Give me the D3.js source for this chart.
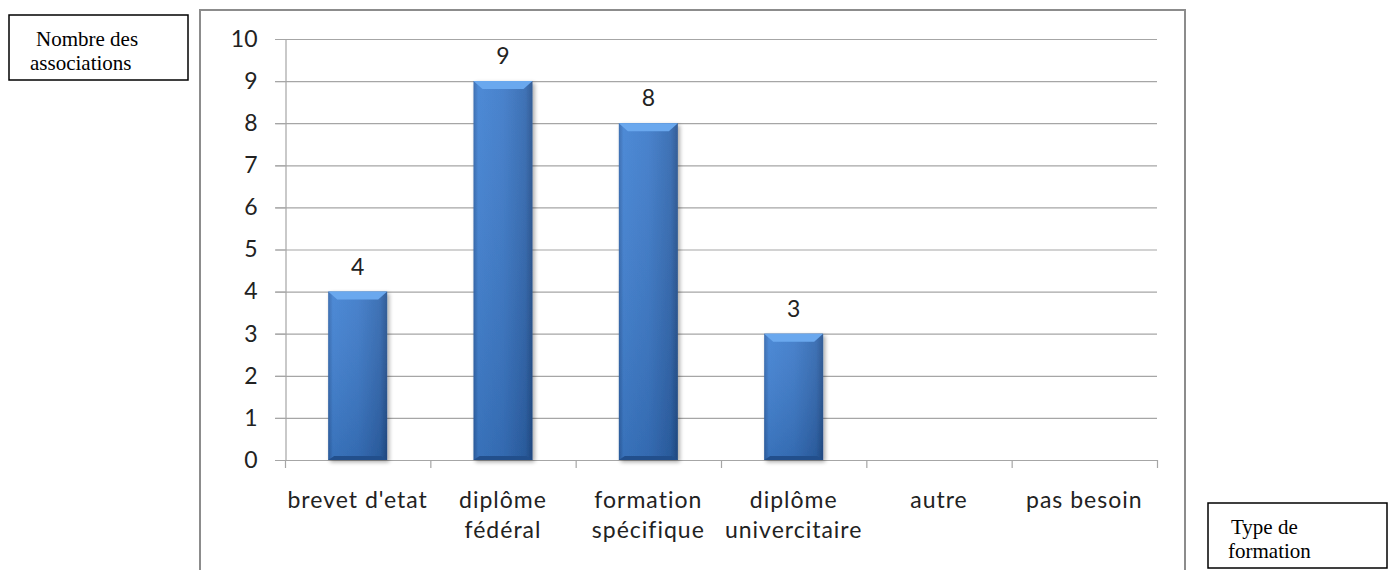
<!DOCTYPE html>
<html>
<head>
<meta charset="utf-8">
<script src="https://cdn.jsdelivr.net/npm/d3@7"></script>
<style>
  body { margin: 0; background: #fff; }
  svg { display: block; }
</style>
</head>
<body>
<div id="chart"></div>
<script>
// data
const categories = [["brevet d'etat"], ["diplôme", "fédéral"], ["formation", "spécifique"],
                    ["diplôme", "univercitaire"], ["autre"], ["pas besoin"]];
const values = [4, 9, 8, 3, 0, 0];
const yTicks = [0, 1, 2, 3, 4, 5, 6, 7, 8, 9, 10];

const width = 1390, height = 570;
const svg = d3.select("#chart").append("svg")
    .attr("width", width)
    .attr("height", height);

const defs = svg.append("defs");
// horizontal shading of the bars
const grad = defs.append("linearGradient").attr("id", "barGrad")
    .attr("x1", "0%").attr("x2", "100%").attr("y1", "0%").attr("y2", "0%");
grad.append("stop").attr("offset", "0%").attr("stop-color", "#2f64ab");
grad.append("stop").attr("offset", "8%").attr("stop-color", "#3f80d2");
grad.append("stop").attr("offset", "50%").attr("stop-color", "#3a78c8");
grad.append("stop").attr("offset", "88%").attr("stop-color", "#2f66af");
grad.append("stop").attr("offset", "100%").attr("stop-color", "#23508e");
const vgrad = defs.append("linearGradient").attr("id", "barShade")
    .attr("x1", "0%").attr("x2", "0%").attr("y1", "0%").attr("y2", "100%");
vgrad.append("stop").attr("offset", "0%").attr("stop-color", "#ffffff").attr("stop-opacity", 0.08);
vgrad.append("stop").attr("offset", "100%").attr("stop-color", "#000000").attr("stop-opacity", 0.12);
const shadow = defs.append("filter").attr("id", "shadow")
    .attr("x", "-20%").attr("y", "-5%").attr("width", "150%").attr("height", "115%");
shadow.append("feGaussianBlur").attr("in", "SourceAlpha").attr("stdDeviation", 2);
shadow.append("feOffset").attr("dx", 2).attr("dy", 2).attr("result", "b");
shadow.append("feComponentTransfer").append("feFuncA").attr("type", "linear").attr("slope", 0.35);
const merge = shadow.append("feMerge");
merge.append("feMergeNode");
merge.append("feMergeNode").attr("in", "SourceGraphic");

// chart frame
svg.append("rect")
    .attr("x", 200).attr("y", 10)
    .attr("width", 985).attr("height", 580)
    .attr("fill", "#fff").attr("stroke", "#8c8c8c").attr("stroke-width", 2);

const plot = { left: 285, right: 1157, top: 39, bottom: 460 };

const x = d3.scaleBand()
    .domain(d3.range(categories.length))
    .range([plot.left, plot.right])
    .paddingInner(0.594)
    .paddingOuter(0.297);

const y = d3.scaleLinear()
    .domain([0, 10])
    .range([plot.bottom, plot.top]);

const font = "Lato, Open Sans, sans-serif";
const fsize = 23;

// grid lines
svg.append("g")
    .selectAll("line")
    .data(yTicks)
    .join("line")
    .attr("x1", plot.left - 10).attr("x2", plot.right)
    .attr("y1", d => y(d) + 0.5).attr("y2", d => y(d) + 0.5)
    .attr("stroke", "#a6a6a6").attr("stroke-width", 1.2);

// y axis
const yAxis = svg.append("g")
    .attr("transform", `translate(${plot.left + 0.5},0)`)
    .call(d3.axisLeft(y).tickValues(yTicks).tickSize(10).tickPadding(18));
yAxis.select(".domain").attr("stroke", "#a6a6a6").attr("stroke-width", 1.2);
yAxis.selectAll(".tick line").attr("stroke", "#a6a6a6");
yAxis.selectAll("text")
    .attr("font-family", font).attr("font-size", fsize).attr("fill", "#222");

// x axis with boundary ticks
const step = x.step();
const boundaries = d3.range(categories.length + 1).map(i => plot.left + i * step);
svg.append("g")
    .selectAll("line")
    .data(boundaries)
    .join("line")
    .attr("x1", d => d + 0.5).attr("x2", d => d + 0.5)
    .attr("y1", plot.bottom).attr("y2", plot.bottom + 8)
    .attr("stroke", "#a6a6a6").attr("stroke-width", 1.2);

// bars
const bars = svg.append("g").selectAll("g")
    .data(values.map((v, i) => ({ v, i })).filter(d => d.v > 0))
    .join("g")
    .attr("filter", "url(#shadow)");

bars.append("rect")
    .attr("x", d => x(d.i))
    .attr("y", d => y(d.v))
    .attr("width", x.bandwidth())
    .attr("height", d => y(0) - y(d.v))
    .attr("fill", "url(#barGrad)");
bars.append("rect")
    .attr("x", d => x(d.i))
    .attr("y", d => y(d.v))
    .attr("width", x.bandwidth())
    .attr("height", d => y(0) - y(d.v))
    .attr("fill", "url(#barShade)");
// top bevel
bars.append("path")
    .attr("d", d => {
        const x0 = x(d.i), x1 = x0 + x.bandwidth(), t = y(d.v);
        return `M${x0},${t}L${x1},${t}L${x1 - 9},${t + 8}L${x0 + 9},${t + 8}Z`;
    })
    .attr("fill", "#6aa8ee");
// bottom bevel
bars.append("path")
    .attr("d", d => {
        const x0 = x(d.i), x1 = x0 + x.bandwidth(), b = y(0);
        return `M${x0},${b}L${x1},${b}L${x1 - 6},${b - 4}L${x0 + 6},${b - 4}Z`;
    })
    .attr("fill", "#24508c");

// value labels
svg.append("g").selectAll("text")
    .data(values.map((v, i) => ({ v, i })).filter(d => d.v > 0))
    .join("text")
    .attr("x", d => x(d.i) + x.bandwidth() / 2)
    .attr("y", d => y(d.v) - 17)
    .attr("text-anchor", "middle")
    .attr("font-family", font).attr("font-size", fsize).attr("fill", "#222")
    .text(d => d.v);

// category labels
const catText = svg.append("g").selectAll("text")
    .data(categories)
    .join("text")
    .attr("text-anchor", "middle")
    .attr("letter-spacing", 1)
    .attr("font-family", font).attr("font-size", fsize).attr("fill", "#222");
catText.selectAll("tspan")
    .data((d, i) => d.map(line => ({ line, i })))
    .join("tspan")
    .attr("x", d => x(d.i) + x.bandwidth() / 2)
    .attr("y", (d, j) => 508 + j * 30)
    .text(d => d.line);

// axis title boxes
function titleBox(bx, by, lines, tx) {
    svg.append("rect")
        .attr("x", bx).attr("y", by).attr("width", 179).attr("height", 65)
        .attr("fill", "#fff").attr("stroke", "#000").attr("stroke-width", 1.5);
    svg.append("g").selectAll("text")
        .data(lines)
        .join("text")
        .attr("x", (d, i) => bx + tx[i])
        .attr("y", (d, i) => by + 31 + i * 24)
        .attr("font-family", "Liberation Serif, Times New Roman, serif")
        .attr("font-size", 21).attr("fill", "#000")
        .text(d => d);
}
titleBox(9, 15, ["Nombre des", "associations"], [27, 21]);
titleBox(1208, 503, ["Type de", "formation"], [23, 20]);
</script>
</body>
</html>
